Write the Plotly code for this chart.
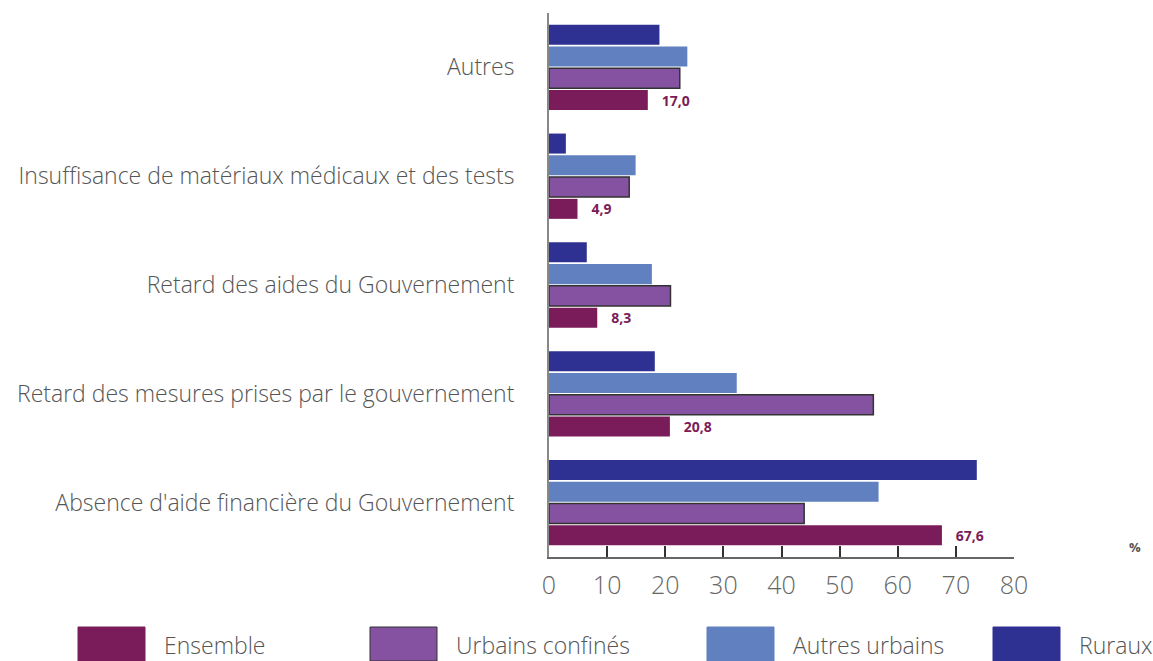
import plotly.graph_objects as go

categories = [
    "Absence d'aide financière du Gouvernement",
    "Retard des mesures prises par le gouvernement",
    "Retard des aides du Gouvernement",
    "Insuffisance de matériaux médicaux et des tests",
    "Autres",
]
series_names = ["Ensemble", "Urbains confinés", "Autres urbains", "Ruraux"]
ensemble = [67.6, 20.8, 8.3, 4.9, 17.0]
urbains_confines = [43.9, 55.8, 20.9, 13.8, 22.5]
autres_urbains = [56.7, 32.3, 17.7, 14.9, 23.8]
ruraux = [73.6, 18.2, 6.5, 2.9, 19.0]
x_ticks = [0, 10, 20, 30, 40, 50, 60, 70, 80]

colors = ["#7B1C5A", "#8452A0", "#6080C0", "#2E3192"]
values = [ensemble, urbains_confines, autres_urbains, ruraux]

FONT = "Open Sans"
W, H = 1153, 661
ML, MR, MT, MB = 549, 139, 13, 104
PW, PH = W - ML - MR, H - MT - MB


def px(x):
    return (x - ML) / PW


def py(y):
    return (H - MB - y) / PH


fig = go.Figure()
for i, (name, vals, col) in enumerate(zip(series_names, values, colors)):
    kw = {}
    if i == 0:
        kw = dict(
            text=["\u00a0\u00a0\u00a0" + f"{v:.1f}".replace(".", ",") for v in vals],
            textposition="outside",
            outsidetextfont=dict(family=FONT, size=14, color=col, weight="bold"),
            constraintext="none",
            cliponaxis=False,
        )
    fig.add_trace(go.Bar(
        y=categories, x=vals, orientation="h", name=name,
        marker=dict(color=col,
                    line=dict(color="#333333" if i == 1 else col, width=1.5 if i == 1 else 0)),
        showlegend=False, **kw,
    ))

# manual legend with large swatches
leg_sw = [78, 370, 707, 993]
for name, col, x0, in zip(series_names, colors, leg_sw):
    fig.add_shape(type="rect", xref="paper", yref="paper",
                  x0=px(x0), x1=px(x0 + 67), y0=py(627), y1=py(661),
                  fillcolor=col,
                  line=dict(color="#333333" if name == "Urbains confinés" else col, width=1))
    fig.add_annotation(xref="paper", yref="paper", x=px(x0 + 84), y=py(645),
                       text=name, showarrow=False, xanchor="left", yanchor="middle",
                       font=dict(family=FONT, size=23, color="#555555", weight=300))

fig.add_annotation(xref="paper", yref="paper", x=px(1135), y=py(547), text="%",
                   showarrow=False, xanchor="center", yanchor="middle",
                   font=dict(family=FONT, size=13, color="#555555", weight="bold"))

fig.update_layout(
    width=W, height=H,
    margin=dict(l=ML, r=MR, t=MT, b=MB),
    plot_bgcolor="white", paper_bgcolor="white",
    barmode="group", bargap=0.2, bargroupgap=0.08,
    font=dict(family=FONT, color="#555555"),
)
fig.update_xaxes(
    range=[0, 80], tickvals=x_ticks, showgrid=False, zeroline=False,
    showline=True, linecolor="#666666", linewidth=2,
    ticks="inside", ticklen=11, tickcolor="#333333", tickwidth=1.5,
    ticklabelstandoff=5,
    tickfont=dict(family=FONT, size=25, color="#666666", weight=300),
)
fig.update_yaxes(
    showgrid=False, zeroline=False, showline=True, linecolor="#888888", linewidth=2,
    ticks="", ticklabelstandoff=28,
    tickfont=dict(family=FONT, size=23, color="#555555", weight=300),
)

fig.write_html("out.html", config={"displayModeBar": False},
               post_script="document.body.style.margin='0';")
